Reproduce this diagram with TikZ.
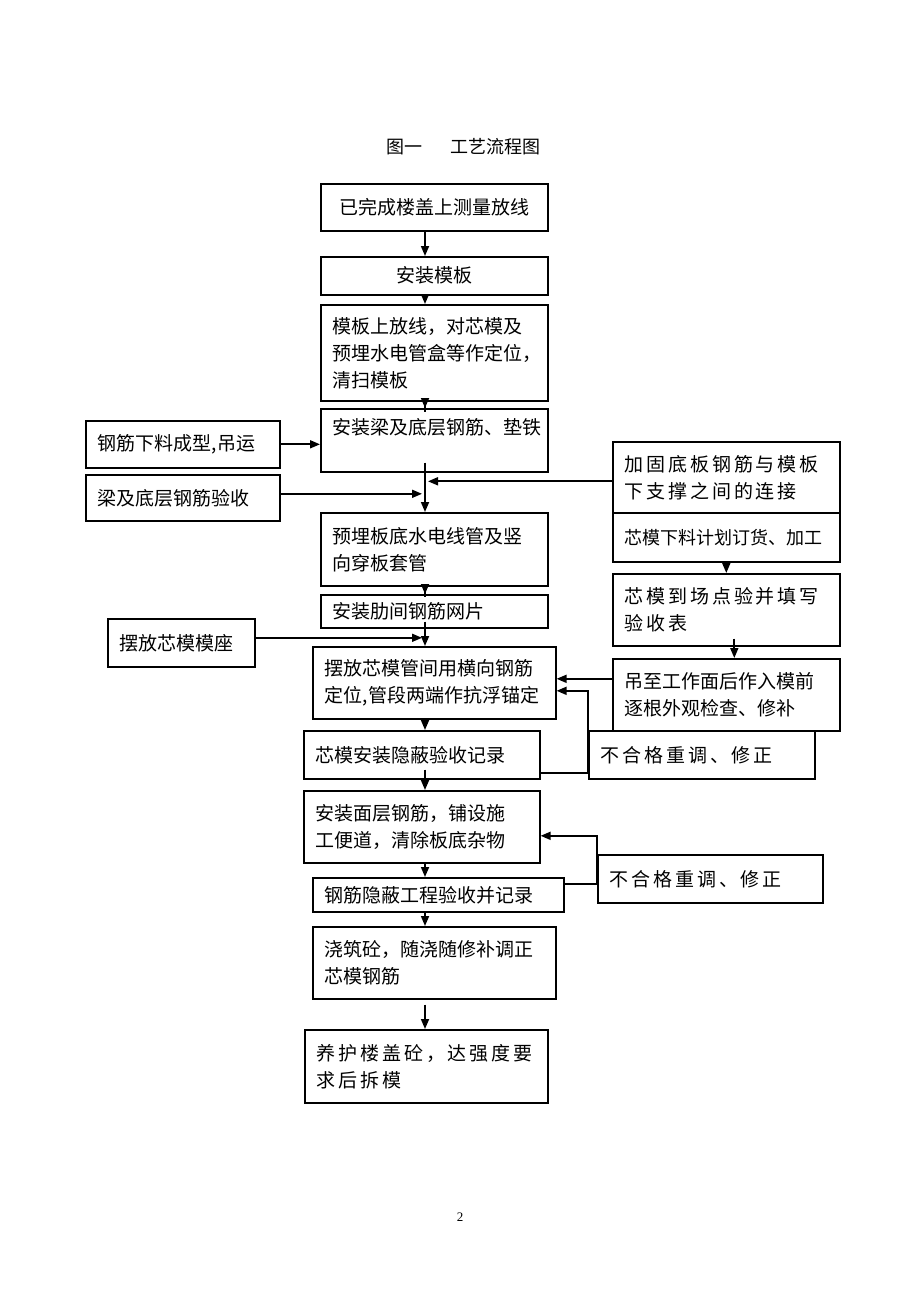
\documentclass[tikz,border=0pt]{standalone}
\usepackage{fontspec}
\setmainfont{Liberation Serif}
\newfontfamily\cjk{Noto Sans CJK SC}
\usetikzlibrary{arrows.meta}

\tikzset{
	kasten/.style={draw, line width=1.6pt, anchor=north west, align=left,
		inner xsep=12pt, inner ysep=2pt, text width=#1-24pt, minimum width=#1,
		font=\cjk\fontsize{19}{27}\selectfont},
	mitte/.style={align=center},
	weit/.style={font=\cjk\fontsize{19}{27}\selectfont\addfontfeature{LetterSpace=15}},
	eng/.style={font=\cjk\fontsize{18}{27}\selectfont},
	pfeil/.style={-{Triangle[length=10pt,width=8pt]}, line width=1.7pt},
}

\begin{document}
\begin{tikzpicture}[x=1pt, y=-1pt]
\useasboundingbox[fill=white] (0,0) rectangle (920,1302);
\coordinate (achse) at (425,0);

% Titel
\node[anchor=west, font=\cjk\fontsize{18}{20}\selectfont] (titel) at (383,147) {图一\hspace{28pt}工艺流程图};

% Hauptkette
\node[kasten=227pt, minimum height=47pt, mitte] (vermessen) at (320,183) {已完成楼盖上测量放线};
\node[kasten=227pt, minimum height=38pt, mitte] (schalung) at (320,256) {安装模板};
\node[kasten=227pt, minimum height=96pt] (anreissen) at (320,304) {模板上放线，对芯模及\\预埋水电管盒等作定位，\\清扫模板};
\node[kasten=227pt, minimum height=63pt] (unterbew) at (320,408) {安装梁及底层钢筋、垫铁\\\mbox{}};
\node[kasten=227pt, minimum height=73pt] (leitungen) at (320,512) {预埋板底水电线管及竖\\向穿板套管};
\node[kasten=227pt, minimum height=33pt] (netz) at (320,594) {安装肋间钢筋网片};
\node[kasten=243pt, minimum height=72pt] (kerne) at (312,646) {摆放芯模管间用横向钢筋\\定位,管段两端作抗浮锚定};
\node[kasten=236pt, minimum height=48pt] (abnahme1) at (303,730) {芯模安装隐蔽验收记录};
\node[kasten=236pt, minimum height=72pt] (oberbew) at (303,790) {安装面层钢筋，铺设施\\工便道，清除板底杂物};
\node[kasten=251pt, minimum height=34pt] (abnahme2) at (312,877) {钢筋隐蔽工程验收并记录};
\node[kasten=243pt, minimum height=72pt] (betonieren) at (312,926) {浇筑砼，随浇随修补调正\\芯模钢筋};
\node[kasten=243pt, minimum height=73pt, weit] (nachbeh) at (304,1029) {养护楼盖砼，达强度要\\求后拆模};

% linke Spalte
\node[kasten=194pt, minimum height=47pt] (zuschnitt) at (85,420) {钢筋下料成型,吊运};
\node[kasten=194pt, minimum height=46pt] (abnahme0) at (85,474) {梁及底层钢筋验收};
\node[kasten=147pt, minimum height=48pt] (sockel) at (107,618) {摆放芯模模座};

% rechte Spalte
\node[kasten=227pt, minimum height=71pt, weit] (verstaerkung) at (612,441) {加固底板钢筋与模板\\下支撑之间的连接};
\node[kasten=227pt, minimum height=49pt, eng] (bestellung) at (612,512) {芯模下料计划订货、加工};
\node[kasten=227pt, minimum height=72pt, weit] (lieferung) at (612,573) {芯模到场点验并填写\\验收表};
\node[kasten=227pt, minimum height=72pt] (kontrolle) at (612,658) {吊至工作面后作入模前\\逐根外观检查、修补};
\node[kasten=226pt, minimum height=48pt, weit] (korrektur1) at (588,730) {不合格重调、修正};
\node[kasten=225pt, minimum height=48pt, weit] (korrektur2) at (597,854) {不合格重调、修正};

% Seitenzahl
\node[font=\fontsize{13}{15}\selectfont] (seite) at (460,1217) {2};

% Pfeile Hauptachse
\draw[pfeil] (vermessen.south -| achse) -- (schalung.north -| achse);
\draw[pfeil, shorten <=-6pt] (schalung.south -| achse) -- (anreissen.north -| achse);
\draw[pfeil, shorten <=-10pt] (anreissen.south -| achse) -- (unterbew.north -| achse);
\draw[pfeil, shorten <=-10pt] (unterbew.south -| achse) -- (leitungen.north -| achse);
\draw[pfeil, shorten <=-10pt] (leitungen.south -| achse) -- (netz.north -| achse);
\draw[pfeil, shorten <=-7pt] (netz.south -| achse) -- (kerne.north -| achse);
\draw[pfeil] (kerne.south -| achse) -- (abnahme1.north -| achse);
\draw[pfeil, shorten <=-10pt] (abnahme1.south -| achse) -- (oberbew.north -| achse);
\draw[pfeil] (oberbew.south -| achse) -- (abnahme2.north -| achse);
\draw[pfeil] (abnahme2.south -| achse) -- (betonieren.north -| achse);
\draw[pfeil, shorten <=5pt] (betonieren.south -| achse) -- (nachbeh.north -| achse);

% Zufuehrungen links
\draw[pfeil] (zuschnitt.east) -- (zuschnitt.east -| unterbew.west);
\draw[pfeil] ([yshift=4pt]abnahme0.east) -- ([xshift=-3pt, yshift=4pt]abnahme0.east -| achse);
\draw[pfeil] ([yshift=5pt]sockel.east) -- ([xshift=-3pt, yshift=5pt]sockel.east -| achse);

% Zufuehrungen rechts
\draw[pfeil] ([yshift=-4pt]verstaerkung.west) -- ([xshift=3pt, yshift=-4pt]verstaerkung.west -| achse);
\draw[pfeil] (bestellung.south) -- (lieferung.north);
\draw[pfeil, shorten <=-8pt] ([xshift=8pt]lieferung.south) -- ([xshift=8pt]kontrolle.north);
\draw[pfeil] ([yshift=16pt]kontrolle.west) -- ([yshift=16pt]kontrolle.west -| kerne.east);

% Ruecklaeufe
\draw[pfeil] ([yshift=-18pt]abnahme1.east) -- ([yshift=-18pt]abnahme1.east -| korrektur1.west) |- ([yshift=-8pt]kerne.east);
\draw[pfeil] ([yshift=11pt]abnahme2.east) -- ([yshift=11pt]abnahme2.east -| korrektur2.west) |- ([yshift=-9pt]oberbew.east);
\end{tikzpicture}
\end{document}
